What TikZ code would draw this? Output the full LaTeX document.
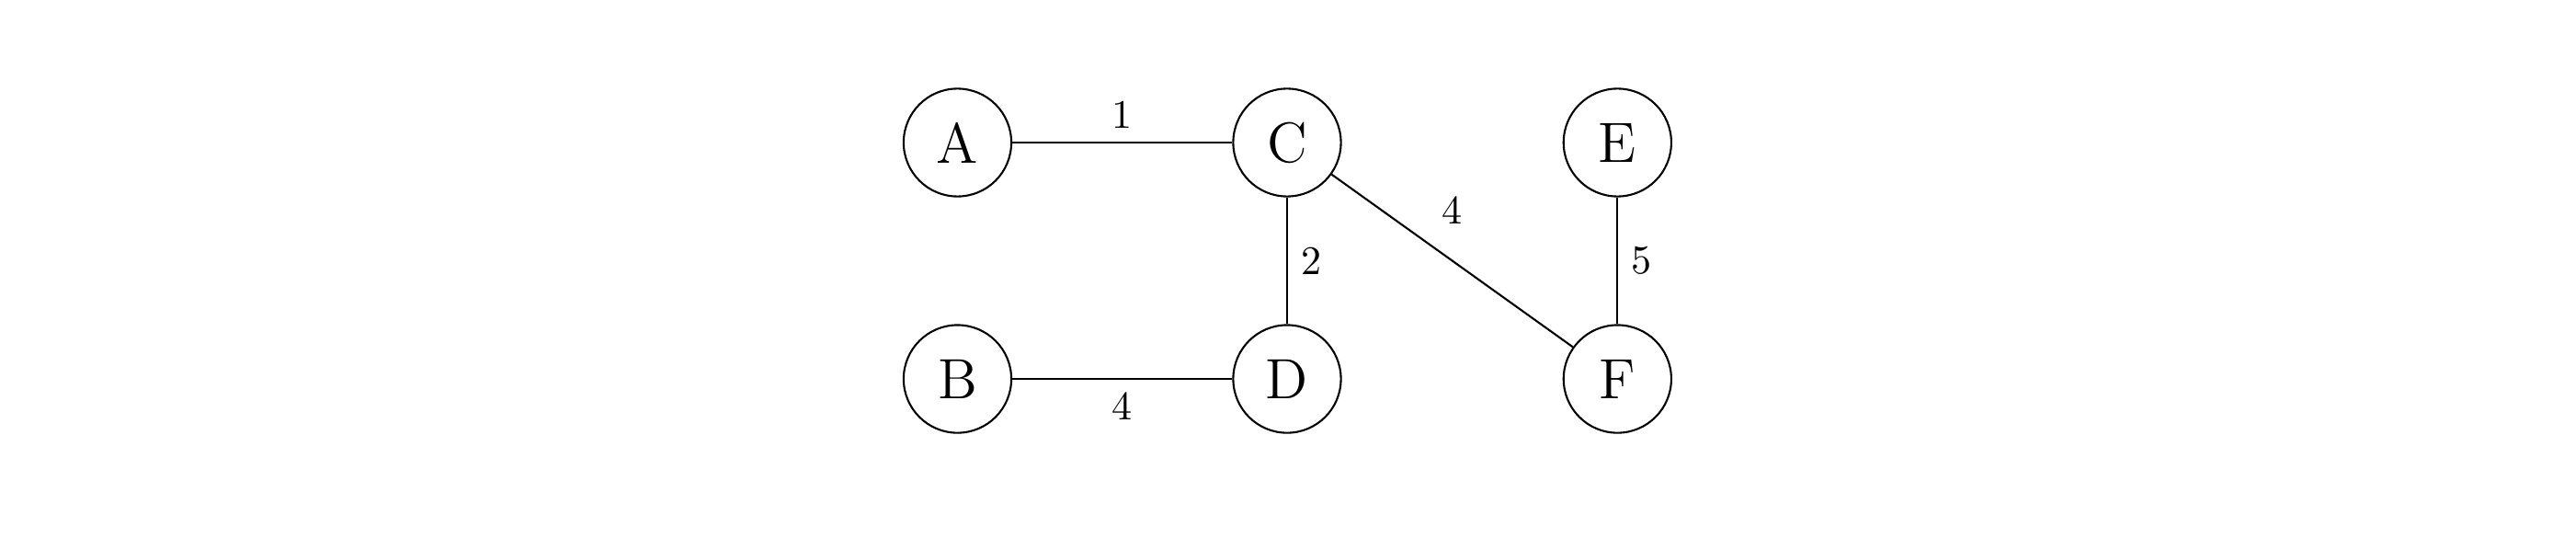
\documentclass[tikz,border=0pt]{standalone}
\usepackage{tikz}

\begin{document}
\begin{tikzpicture}
[line width=0.5pt,
 vertex/.style={circle,draw,minimum size=27.9pt,inner sep=0pt,font=\fontsize{14.7}{17.6}\selectfont},
 weight/.style={font=\fontsize{10.5}{12.6}\selectfont},
 wdiag/.style={above=6pt}]
  \useasboundingbox (0,0) rectangle (23.447,4.887);
  \node[vertex] (A) at (8.715,3.590)  {A};
  \node[vertex] (C) at (11.715,3.590) {C};
  \node[vertex] (E) at (14.722,3.590) {E};
  \node[vertex] (B) at (8.715,1.439)  {B};
  \node[vertex] (D) at (11.715,1.439) {D};
  \node[vertex] (F) at (14.722,1.439) {F};
  \foreach \from/\to/\w/\side in {A/C/1/above, B/D/4/below, C/D/2/right, C/F/4/wdiag, E/F/5/right}
    \draw (\from) -- node[weight,\side] {\w} (\to);

\end{tikzpicture}
\end{document}
